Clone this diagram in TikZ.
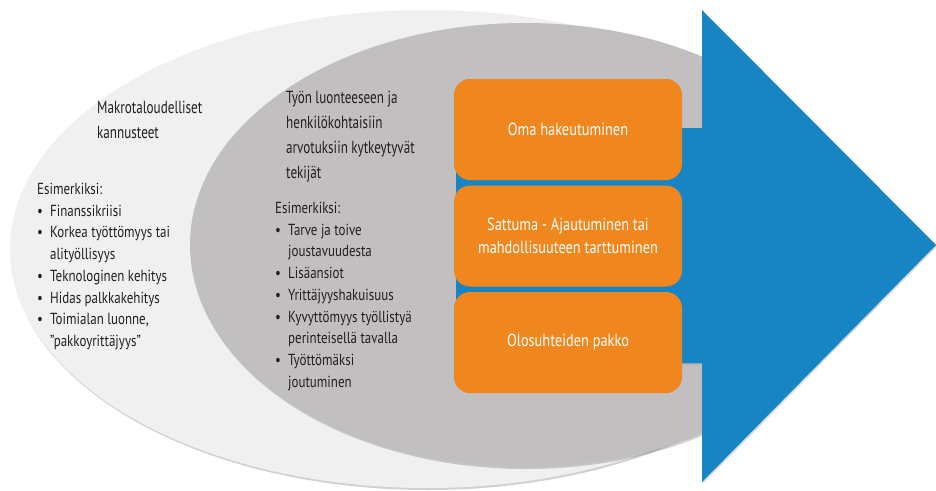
\documentclass[tikz,border=0pt]{standalone}
\usepackage{fontspec}
\setmainfont{PT Sans}[FakeStretch=0.8]
\newfontfamily\headfont{PT Sans}[FakeStretch=0.75]
\newfontfamily\bodyfont{PT Sans}[FakeStretch=0.81]
\newfontfamily\boxfont{PT Sans}[FakeStretch=0.82]
\usetikzlibrary{shadows}
\definecolor{outerfill}{HTML}{F0F0F0}
\definecolor{innerfill}{HTML}{C1BFC0}
\definecolor{boxorange}{HTML}{F0871E}
\definecolor{arrowblue}{HTML}{1784C3}
\definecolor{txt}{HTML}{231F20}
\newcommand{\bul}{\makebox[13pt][l]{\textbullet}}
\newcommand{\ind}{\hspace*{13pt}}
\tikzset{
  ellshadow/.style={drop shadow={shadow xshift=1pt, shadow yshift=-2pt, opacity=0.3, fill=black!60}},
  headtext/.style={anchor=north west, inner sep=0pt, align=left, text=txt, font=\headfont\fontsize{17.5}{25}\selectfont},
  bodytext/.style={anchor=north west, inner sep=0pt, align=left, text=txt, font=\bodyfont\fontsize{16}{21.7}\selectfont},
  obox/.style={draw=none, fill=boxorange, rounded corners=16pt, minimum width=228pt, minimum height=101pt, text=white, align=center, font=\boxfont\fontsize{17.5}{23}\selectfont}
}
\begin{document}
\begin{tikzpicture}[x=1pt,y=-1pt]
\useasboundingbox (0,0) rectangle (936,490);
% outer ellipse
\path[fill=outerfill, ellshadow] (427,249) ellipse [x radius=417, y radius=239];
% inner ellipse
\path[fill=innerfill, ellshadow] (525,245) ellipse [x radius=335, y radius=222];
% arrow
\path[fill=arrowblue, drop shadow={shadow xshift=1pt, shadow yshift=-1.5pt, opacity=0.25, fill=black!60}]
  (456,128) -- (702,128) -- (702,10) -- (936,245) -- (702,482) -- (702,363) -- (456,363) -- cycle;
% orange boxes
\node[obox] (b1) at (568,129.5) {Oma hakeutuminen};
\node[obox] (b2) at (568,236) {Sattuma - Ajautuminen tai\\mahdollisuuteen tarttuminen};
\node[obox] (b3) at (568,342.5) {Olosuhteiden pakko};
% texts
\node[headtext] (h1) at (97,101) {Makrotaloudelliset\\kannusteet};
\node[bodytext] (l1) at (37,183) {Esimerkiksi:\\
\bul Finanssikriisi\\
\bul Korkea työttömyys tai\\
\ind alityöllisyys\\
\bul Teknologinen kehitys\\
\bul Hidas palkkakehitys\\
\bul Toimialan luonne,\\
\ind ”pakkoyrittäjyys”};
\node[headtext] (h2) at (286,91) {Työn luonteeseen ja\\henkilökohtaisiin\\arvotuksiin kytkeytyvät\\tekijät};
\node[bodytext] (l2) at (275,202) {Esimerkiksi:\\
\bul Tarve ja toive\\
\ind joustavuudesta\\
\bul Lisäansiot\\
\bul Yrittäjyyshakuisuus\\
\bul Kyvyttömyys työllistyä\\
\ind perinteisellä tavalla\\
\bul Työttömäksi\\
\ind joutuminen};
\end{tikzpicture}
\end{document}
